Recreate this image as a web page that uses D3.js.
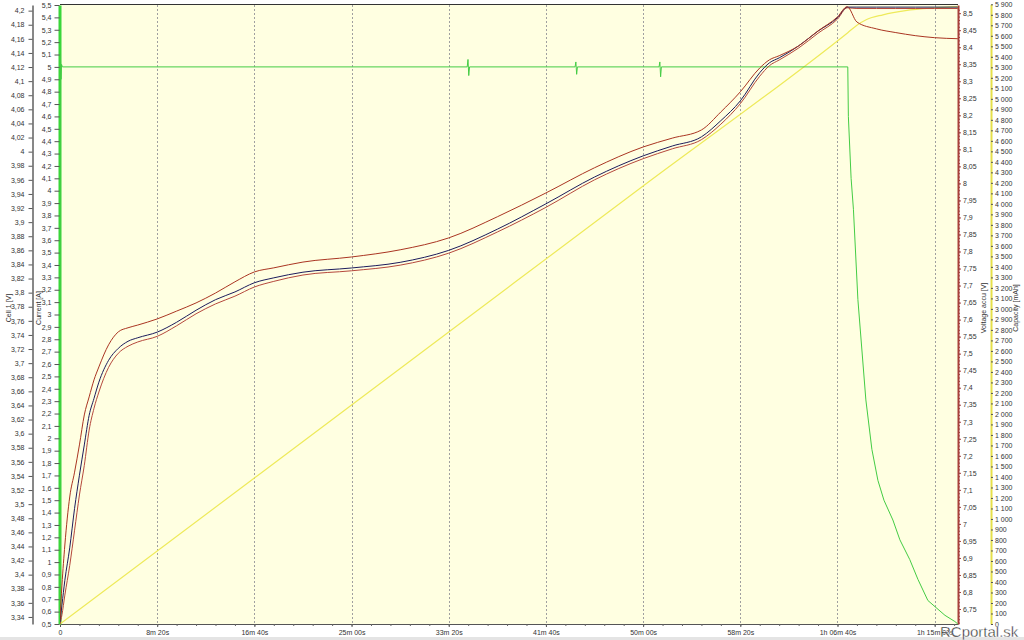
<!DOCTYPE html>
<html><head><meta charset="utf-8">
<script src="https://cdn.jsdelivr.net/npm/d3@7"></script>
<style>
body{margin:0;background:#fff;}
svg{display:block;font-family:"Liberation Sans",Arial,sans-serif;}
</style>
</head><body>
<svg id="c" width="1024" height="640"></svg>
<script>
// ---- data ----
const timeSec = [0,10,25,50,75,100,125,150,175,200,250,300,350,400,500,600,700,800,900,1000,1100,1250,1500,1750,2000,2250,2500,2750,3000,3150,3300,3400,3500,3600,3650,3700,3800,3900,4000,4050,4100,4200,4300,4400,4500,4619];
const voltageAccu = [6.718,6.820,6.938,7.079,7.152,7.232,7.320,7.373,7.423,7.461,7.526,7.564,7.576,7.584,7.602,7.625,7.649,7.678,7.711,7.740,7.752,7.769,7.784,7.805,7.840,7.902,7.972,8.046,8.107,8.133,8.157,8.210,8.269,8.339,8.363,8.375,8.404,8.448,8.489,8.519,8.474,8.454,8.443,8.434,8.428,8.425];
const cell1 = [3.333,3.357,3.392,3.438,3.494,3.541,3.584,3.626,3.650,3.673,3.704,3.721,3.731,3.736,3.744,3.758,3.775,3.790,3.801,3.814,3.821,3.829,3.835,3.843,3.860,3.890,3.926,3.964,3.994,4.008,4.021,4.044,4.072,4.112,4.126,4.133,4.150,4.171,4.190,4.205,4.205,4.205,4.205,4.205,4.205,4.205];
const cell2 = [3.330,3.343,3.371,3.413,3.463,3.513,3.555,3.605,3.636,3.659,3.694,3.714,3.724,3.730,3.738,3.753,3.770,3.784,3.795,3.808,3.816,3.825,3.831,3.839,3.856,3.886,3.921,3.960,3.990,4.004,4.017,4.039,4.068,4.107,4.122,4.130,4.147,4.168,4.188,4.204,4.203,4.203,4.203,4.203,4.203,4.203];

const currentTime = [0,2,5,8,12,2095,2099,2103,2107,2650,2654,2658,2662,3082,3086,3090,3094,4053,4056,4070,4082,4105,4146,4177,4208,4239,4285,4321,4372,4414,4465,4553,4604,4619];
const currentA    = [0.5,5.10,4.90,5.02,5.0,5.0,5.06,4.93,5.0,5.0,5.04,4.94,5.0,5.0,5.04,4.92,5.0,5.0,4.6,4.1,3.85,3.12,2.31,1.91,1.66,1.50,1.34,1.18,1.02,0.86,0.69,0.57,0.52,0.5];

const capacityTime = [0,1000,2000,3000,4053,4100,4150,4234,4350,4491,4619];
const capacityMah  = [0,1390,2780,4170,5630,5700,5755,5800,5840,5865,5878];

const xTickValues = [0,500,1000,1500,2000,2500,3000,3500,4000,4500];
const xTickLabels = ["0","8m 20s","16m 40s","25m 00s","33m 20s","41m 40s","50m 00s","58m 20s","1h 06m 40s","1h 15m 00s"];
const cellTicks = d3.range(334,421,2).map(v=>v/100);
const currentTicks = d3.range(5,56,1).map(v=>v/10);
const accuTicks = d3.range(675,851,5).map(v=>v/100);
const accuMinor = d3.range(671,852,1).map(v=>v/100);
const capTicks = d3.range(0,5901,100);

// ---- layout ----
const L=60, R=958, T=5, B=624;
const svg = d3.select("#c");
const FS = "7px", TXT = "#333";

const x = d3.scaleLinear().domain([0,4620]).range([L,R]);
const yCell = d3.scaleLinear().domain([3.33,4.208]).range([B,T]);
const yCur = d3.scaleLinear().domain([0.5,5.5]).range([B,T]);
const yAccu = d3.scaleLinear().domain([6.706,8.524]).range([B,T]);
const yCap = d3.scaleLinear().domain([0,5900]).range([B,4.3]);

const strip = s => s.replace(/\.?0+$/,'').replace('.',',');
const f2 = d => strip(d3.format(".2f")(d));
const f1 = d => strip(d3.format(".1f")(d));
const fCap = d => d3.format(",")(d).replace(/,/g,' ');

// background
svg.append("rect").attr("x",0).attr("y",0).attr("width",1024).attr("height",640).attr("fill","#fff");
svg.append("rect").attr("x",L).attr("y",T).attr("width",R-L).attr("height",B-T).attr("fill","#ffffe1");
svg.append("rect").attr("x",0).attr("y",637).attr("width",1024).attr("height",3).attr("fill","#e4e4e4");

// grid
svg.append("g").selectAll("line").data(xTickValues.slice(1)).join("line")
  .attr("x1",d=>Math.round(x(d))+0.5).attr("x2",d=>Math.round(x(d))+0.5)
  .attr("y1",T).attr("y2",B)
  .attr("stroke","#a0a0a0").attr("stroke-dasharray","2,2").attr("stroke-width",1);

// top border
svg.append("line").attr("x1",L).attr("x2",R).attr("y1",4.5).attr("y2",4.5).attr("stroke","#333");

function styleAxis(g, color, width){
  g.selectAll("text").attr("font-size",FS).attr("fill",TXT).attr("font-family","Liberation Sans, Arial, sans-serif");
  g.selectAll(".tick line").attr("stroke","#555");
  g.select(".domain").attr("stroke",color).attr("stroke-width",width);
}

// x axis
const gx = svg.append("g").attr("transform",`translate(0,${B})`)
  .call(d3.axisBottom(x).tickValues(xTickValues).tickFormat((d,i)=>xTickLabels[i]).tickSize(3).tickPadding(3).tickSizeOuter(0));
styleAxis(gx,"#555",1);
svg.append("g").attr("transform",`translate(0,${B})`)
  .call(d3.axisBottom(x).tickValues(d3.range(100,4620,100)).tickFormat("").tickSize(2).tickSizeOuter(0))
  .call(g=>{g.select(".domain").remove(); g.selectAll("line").attr("stroke","#666");});

// cell axis
const gCell = svg.append("g").attr("transform","translate(32.5,0)")
  .call(d3.axisLeft(yCell).tickValues(cellTicks).tickFormat(f2).tickSize(4).tickPadding(4).tickSizeOuter(0));
styleAxis(gCell,"#111",1);

// current axis
const gCur = svg.append("g").attr("transform","translate(59.5,0)")
  .call(d3.axisLeft(yCur).tickValues(currentTicks).tickFormat(f1).tickSize(5).tickPadding(3).tickSizeOuter(0));
styleAxis(gCur,"#3ad63a",3);

// accu axis
svg.append("g").attr("transform","translate(958,0)")
  .call(d3.axisRight(yAccu).tickValues(accuMinor).tickFormat("").tickSize(2).tickSizeOuter(0))
  .call(g=>{g.select(".domain").remove(); g.selectAll("line").attr("stroke","#a04040");});
const gAccu = svg.append("g").attr("transform","translate(958,0)")
  .call(d3.axisRight(yAccu).tickValues(accuTicks).tickFormat(f2).tickSize(3).tickPadding(2).tickSizeOuter(0));
styleAxis(gAccu,"#a8403a",2);
gAccu.selectAll(".tick line").attr("stroke","#a04040");

// capacity axis
const gCap = svg.append("g").attr("transform","translate(991,0)")
  .call(d3.axisRight(yCap).tickValues(capTicks).tickFormat(fCap).tickSize(2).tickPadding(2).tickSizeOuter(0));
styleAxis(gCap,"#e6e04a",2);

// axis titles
function vtitle(tx, ty, text){
  svg.append("text").attr("transform",`translate(${tx},${ty}) rotate(-90)`)
    .attr("text-anchor","middle").attr("font-size",FS).attr("fill",TXT).text(text);
}
vtitle(10.5,308,"Cell 1 [V]");
vtitle(40.5,308,"Current [A]");
vtitle(986,308,"Voltage accu [V]");
vtitle(1018,308,"Capacity [mAh]");

// series
svg.append("clipPath").attr("id","pc").append("rect").attr("x",L).attr("y",T-2).attr("width",R-L+1).attr("height",B-T+3);
const plot = svg.append("g").attr("clip-path","url(#pc)");

plot.append("path").datum(capacityMah)
  .attr("d", d3.line().x((d,i)=>x(capacityTime[i])).y(d=>yCap(d)).curve(d3.curveMonotoneX))
  .attr("fill","none").attr("stroke","#eeea5a").attr("stroke-width",1.2);

plot.append("path").datum(currentA)
  .attr("d", d3.line().x((d,i)=>x(currentTime[i])).y(d=>yCur(d)))
  .attr("fill","none").attr("stroke","#44cc44").attr("stroke-width",1);

plot.append("path").datum(cell2)
  .attr("d", d3.line().x((d,i)=>x(timeSec[i])).y(d=>yCell(d)).curve(d3.curveMonotoneX))
  .attr("fill","none").attr("stroke","#b5483c").attr("stroke-width",1);

plot.append("path").datum(cell1)
  .attr("d", d3.line().x((d,i)=>x(timeSec[i])).y(d=>yCell(d)).curve(d3.curveMonotoneX))
  .attr("fill","none").attr("stroke","#1c1c5c").attr("stroke-width",1);

plot.append("path").datum(voltageAccu)
  .attr("d", d3.line().x((d,i)=>x(timeSec[i])).y(d=>yAccu(d)).curve(d3.curveMonotoneX))
  .attr("fill","none").attr("stroke","#aa3522").attr("stroke-width",1);

// watermark
svg.append("text").attr("x",940).attr("y",637).attr("font-size","15px").attr("fill","#222")
  .attr("stroke","#fff").attr("stroke-width",0.4).text("RCportal.sk");
</script>
</body></html>
